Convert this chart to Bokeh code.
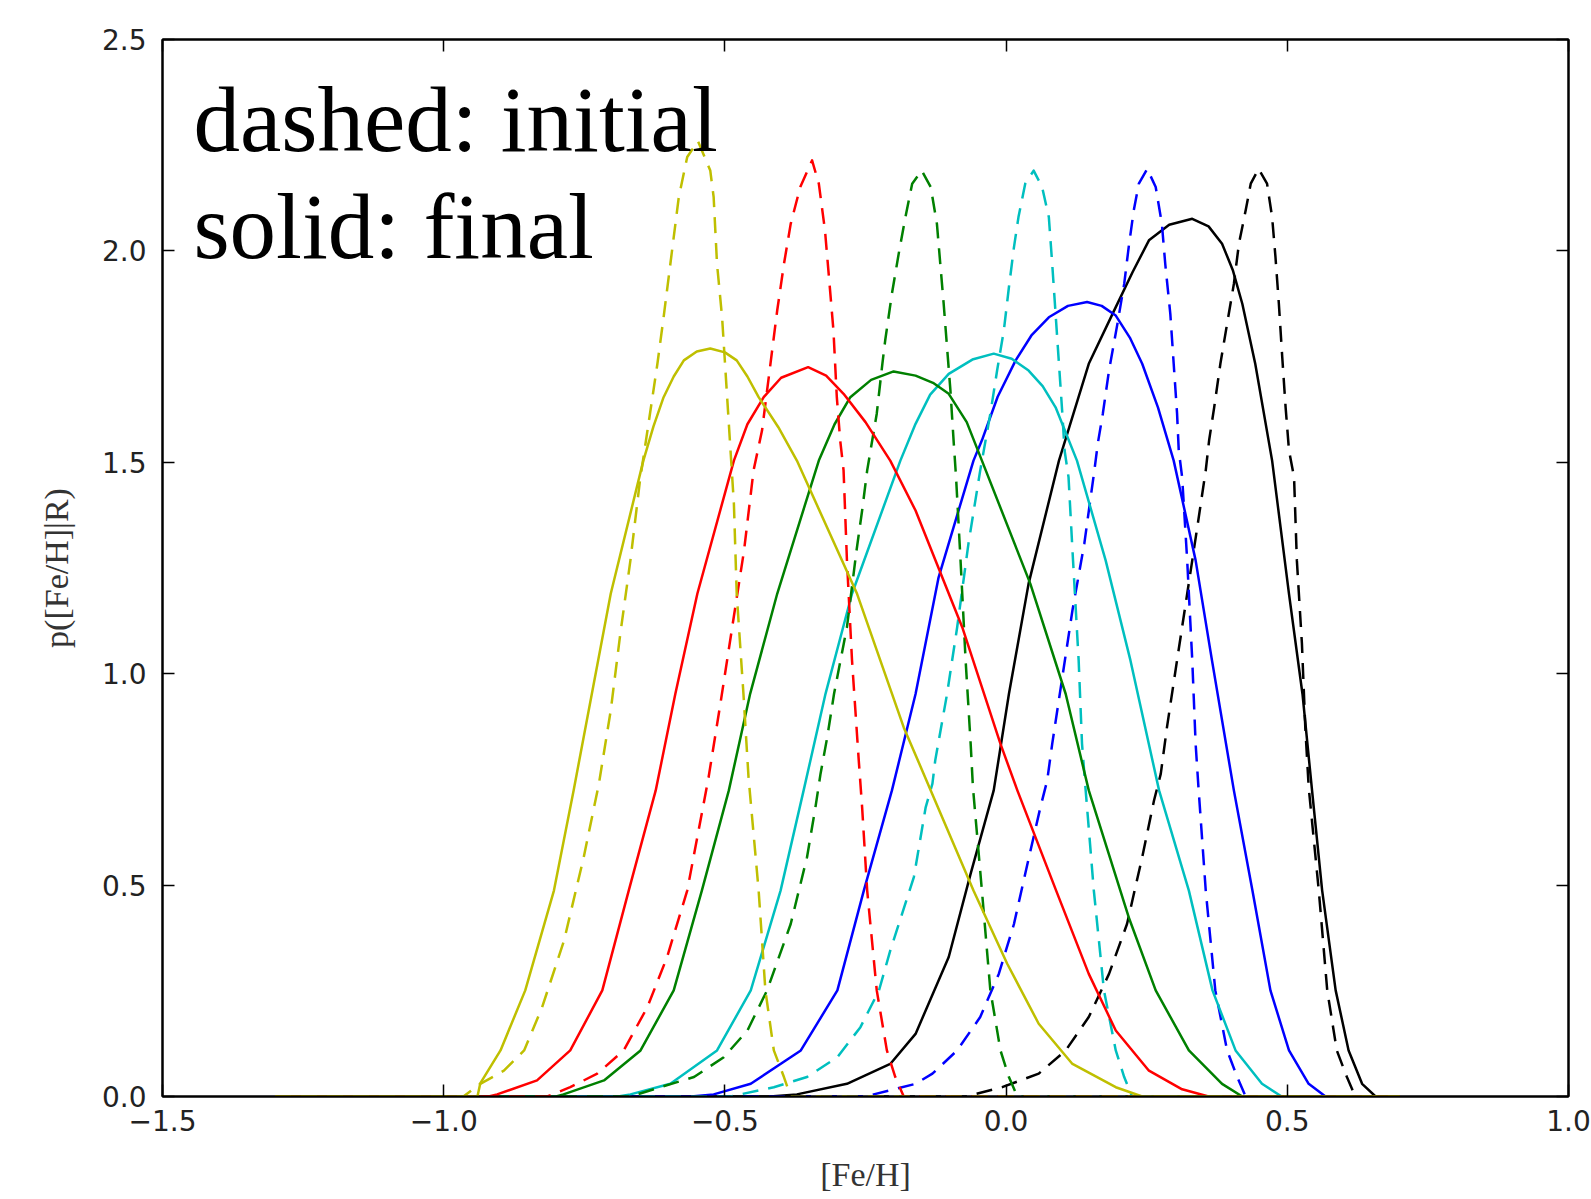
from bokeh.plotting import figure
from bokeh.models import LinearAxis, FixedTicker, Label, Range1d
from bokeh.embed import file_html
from bokeh.resources import INLINE

# ---- data ----
x_ticks = [-1.5, -1.0, -0.5, 0.0, 0.5, 1.0]
x_tick_labels = ["\u22121.5", "\u22121.0", "\u22120.5", "0.0", "0.5", "1.0"]
y_ticks = [0.0, 0.5, 1.0, 1.5, 2.0, 2.5]
y_tick_labels = ["0.0", "0.5", "1.0", "1.5", "2.0", "2.5"]

# final (solid) distributions
y_final_x = [-1.3, -0.94, -0.935, -0.899, -0.855, -0.804, -0.769, -0.703, -0.645, -0.627, -0.609, -0.591, -0.573,
             -0.55, -0.526, -0.50, -0.479, -0.46, -0.440, -0.405, -0.372, -0.265, -0.182, -0.134, -0.058, 0.002,
             0.058, 0.118, 0.195, 0.242, 0.7]
y_final_p = [0, 0, 0.031, 0.109, 0.251, 0.487, 0.724, 1.189, 1.504, 1.585, 1.654, 1.703, 1.741,
             1.762, 1.769, 1.760, 1.741, 1.703, 1.654, 1.583, 1.504, 1.189, 0.873, 0.724, 0.487, 0.314,
             0.172, 0.077, 0.022, 0.0, 0]

r_final_x = [-1.3, -0.92, -0.905, -0.834, -0.775, -0.718, -0.671, -0.623, -0.588, -0.549, -0.484, -0.46, -0.431,
             -0.40, -0.352, -0.32, -0.289, -0.25, -0.206, -0.161, -0.078, -0.010, 0.020, 0.089, 0.147, 0.195,
             0.254, 0.313, 0.36, 0.7]
r_final_p = [0, 0, 0.005, 0.038, 0.109, 0.251, 0.487, 0.724, 0.953, 1.189, 1.504, 1.590, 1.654,
             1.700, 1.725, 1.705, 1.662, 1.595, 1.504, 1.386, 1.110, 0.834, 0.724, 0.487, 0.290, 0.156,
             0.061, 0.017, 0, 0]

g_final_x = [-1.3, -0.80, -0.787, -0.715, -0.650, -0.591, -0.541, -0.493, -0.455, -0.407, -0.333, -0.305, -0.277,
             -0.24, -0.200, -0.161, -0.13, -0.102, -0.07, -0.043, 0.043, 0.106, 0.147, 0.218, 0.266, 0.325,
             0.384, 0.420, 0.7]
g_final_p = [0, 0, 0.005, 0.038, 0.109, 0.251, 0.487, 0.724, 0.953, 1.189, 1.504, 1.590, 1.654,
             1.695, 1.715, 1.705, 1.688, 1.662, 1.595, 1.504, 1.213, 0.952, 0.724, 0.424, 0.251, 0.109,
             0.030, 0, 0]

c_final_x = [-1.3, -0.69, -0.668, -0.597, -0.514, -0.454, -0.401, -0.360, -0.321, -0.274, -0.188, -0.161, -0.135,
             -0.102, -0.06, -0.022, 0.01, 0.040, 0.065, 0.088, 0.126, 0.177, 0.221, 0.272, 0.325, 0.367, 0.408,
             0.455, 0.49, 0.7]
c_final_p = [0, 0, 0.005, 0.030, 0.109, 0.251, 0.487, 0.724, 0.953, 1.189, 1.504, 1.591, 1.660,
             1.709, 1.743, 1.757, 1.745, 1.717, 1.680, 1.630, 1.504, 1.268, 1.032, 0.724, 0.487, 0.251, 0.109,
             0.030, 0, 0]

b_final_x = [-1.3, -0.56, -0.52, -0.454, -0.365, -0.300, -0.253, -0.203, -0.161, -0.120, -0.058, -0.043, -0.015,
             0.017, 0.045, 0.076, 0.11, 0.144, 0.17, 0.195, 0.22, 0.242, 0.27, 0.298, 0.337, 0.366, 0.405,
             0.438, 0.470, 0.503, 0.538, 0.568, 0.7]
b_final_p = [0, 0, 0.005, 0.030, 0.109, 0.251, 0.487, 0.724, 0.952, 1.228, 1.504, 1.552, 1.655,
             1.741, 1.800, 1.843, 1.870, 1.879, 1.870, 1.847, 1.795, 1.733, 1.630, 1.504, 1.268, 1.032, 0.724,
             0.487, 0.251, 0.109, 0.030, 0, 0]

k_final_x = [-1.3, -0.42, -0.372, -0.283, -0.206, -0.161, -0.102, -0.063, -0.022, 0.005, 0.040, 0.094, 0.147,
             0.195, 0.225, 0.254, 0.29, 0.331, 0.36, 0.384, 0.403, 0.420, 0.443, 0.473, 0.503, 0.527, 0.544,
             0.562, 0.586, 0.609, 0.633, 0.657, 0.7]
k_final_p = [0, 0, 0.005, 0.030, 0.077, 0.148, 0.330, 0.527, 0.724, 0.952, 1.213, 1.504, 1.733,
             1.867, 1.950, 2.025, 2.062, 2.076, 2.058, 2.017, 1.955, 1.875, 1.733, 1.504, 1.189, 0.952, 0.724,
             0.487, 0.251, 0.109, 0.030, 0, 0]

# initial (dashed) distributions
y_init_x = [-1.3, -0.965, -0.935, -0.893, -0.857, -0.825, -0.786, -0.751, -0.724, -0.703, -0.686, -0.668, -0.651,
            -0.635, -0.620, -0.609, -0.597, -0.582, -0.567, -0.548, -0.526, -0.520, -0.514, -0.505, -0.496, -0.484,
            -0.479, -0.467, -0.458, -0.440, -0.428, -0.413, -0.395, -0.383, 0.7]
y_init_p = [0, 0, 0.030, 0.061, 0.109, 0.211, 0.369, 0.566, 0.740, 0.913, 1.094, 1.268, 1.457,
            1.599, 1.733, 1.843, 1.969, 2.127, 2.222, 2.26, 2.190, 2.127, 1.969, 1.843, 1.654, 1.402,
            1.189, 0.952, 0.755, 0.487, 0.251, 0.109, 0.046, 0, 0]

r_init_x = [-1.3, -0.816, -0.775, -0.727, -0.680, -0.638, -0.603, -0.567, -0.539, -0.529, -0.508, -0.487, -0.466,
            -0.449, -0.434, -0.419, -0.407, -0.395, -0.383, -0.366, -0.345, -0.333, -0.322, -0.316, -0.307, -0.301,
            -0.295, -0.289, -0.283, -0.274, -0.262, -0.256, -0.247, -0.230, -0.212, -0.197, -0.182, 0.7]
r_init_p = [0, 0, 0.022, 0.054, 0.109, 0.211, 0.329, 0.487, 0.684, 0.755, 0.929, 1.110, 1.291,
            1.481, 1.575, 1.733, 1.859, 1.969, 2.064, 2.151, 2.214, 2.159, 2.048, 1.954, 1.812, 1.654,
            1.552, 1.481, 1.268, 1.032, 0.795, 0.684, 0.487, 0.251, 0.109, 0.046, 0, 0]

g_init_x = [-1.3, -0.668, -0.615, -0.555, -0.502, -0.460, -0.425, -0.383, -0.354, -0.339, -0.330, -0.318, -0.306,
            -0.283, -0.266, -0.256, -0.247, -0.230, -0.220, -0.215, -0.203, -0.191, -0.179, -0.167, -0.150, -0.134,
            -0.123, -0.117, -0.111, -0.105, -0.099, -0.093, -0.089, -0.081, -0.072, -0.063, -0.059, -0.043, -0.028,
            -0.010, 0.005, 0.020, 0.7]
g_init_p = [0, 0, 0.022, 0.046, 0.093, 0.156, 0.251, 0.408, 0.566, 0.684, 0.763, 0.850, 0.952,
            1.110, 1.291, 1.386, 1.481, 1.615, 1.733, 1.788, 1.899, 1.993, 2.080, 2.159, 2.190, 2.151,
            2.064, 1.969, 1.875, 1.772, 1.670, 1.544, 1.465, 1.268, 1.032, 0.834, 0.732, 0.487, 0.251,
            0.109, 0.046, 0, 0]

c_init_x = [-1.3, -0.49, -0.413, -0.354, -0.300, -0.259, -0.226, -0.206, -0.164, -0.158, -0.143, -0.131, -0.126,
            -0.105, -0.087, -0.067, -0.046, -0.028, -0.016, -0.004, 0.005, 0.014, 0.022, 0.034, 0.049, 0.064,
            0.076, 0.082, 0.088, 0.094, 0.100, 0.104, 0.111, 0.119, 0.129, 0.135, 0.141, 0.156, 0.174,
            0.195, 0.210, 0.224, 0.7]
c_init_p = [0, 0, 0.022, 0.046, 0.093, 0.164, 0.251, 0.345, 0.519, 0.566, 0.684, 0.740, 0.795,
            0.952, 1.110, 1.307, 1.481, 1.615, 1.717, 1.812, 1.914, 2.009, 2.080, 2.159, 2.190, 2.151,
            2.080, 1.969, 1.851, 1.733, 1.615, 1.528, 1.465, 1.268, 1.032, 0.834, 0.732, 0.487, 0.251,
            0.109, 0.046, 0, 0]

b_init_x = [-1.3, -0.25, -0.161, -0.131, -0.087, -0.046, -0.013, 0.014, 0.034, 0.061, 0.073, 0.082, 0.100,
            0.118, 0.139, 0.157, 0.163, 0.172, 0.183, 0.198, 0.210, 0.218, 0.227, 0.236, 0.251, 0.266,
            0.277, 0.283, 0.292, 0.298, 0.304, 0.307, 0.313, 0.322, 0.331, 0.337, 0.342, 0.355, 0.372,
            0.393, 0.411, 0.426, 0.7]
b_init_p = [0, 0, 0.030, 0.054, 0.109, 0.188, 0.290, 0.408, 0.527, 0.684, 0.747, 0.834, 0.992,
            1.150, 1.307, 1.481, 1.544, 1.615, 1.717, 1.828, 1.922, 2.009, 2.096, 2.159, 2.194, 2.151,
            2.064, 1.969, 1.851, 1.733, 1.615, 1.528, 1.465, 1.268, 1.032, 0.834, 0.732, 0.487, 0.251,
            0.109, 0.046, 0, 0]

k_init_x = [-1.3, -0.072, -0.007, 0.058, 0.106, 0.147, 0.183, 0.215, 0.242, 0.263, 0.275, 0.286, 0.304,
            0.322, 0.340, 0.355, 0.361, 0.370, 0.381, 0.393, 0.405, 0.414, 0.426, 0.435, 0.449, 0.464,
            0.473, 0.479, 0.485, 0.491, 0.497, 0.503, 0.512, 0.517, 0.526, 0.532, 0.538, 0.556, 0.571,
            0.588, 0.606, 0.621, 0.7]
k_init_p = [0, 0, 0.022, 0.054, 0.109, 0.188, 0.290, 0.408, 0.566, 0.700, 0.763, 0.873, 1.032,
            1.189, 1.347, 1.481, 1.552, 1.630, 1.733, 1.828, 1.922, 2.017, 2.096, 2.159, 2.194, 2.159,
            2.080, 1.985, 1.875, 1.749, 1.630, 1.528, 1.465, 1.268, 1.071, 0.873, 0.732, 0.487, 0.251,
            0.109, 0.046, 0, 0]

colors = {"k": "#000000", "b": "#0000ff", "c": "#00bfbf", "g": "#008000", "r": "#ff0000", "y": "#bfbf00"}
series = [
    ("k", k_final_x, k_final_p, k_init_x, k_init_p),
    ("b", b_final_x, b_final_p, b_init_x, b_init_p),
    ("c", c_final_x, c_final_p, c_init_x, c_init_p),
    ("g", g_final_x, g_final_p, g_init_x, g_init_p),
    ("r", r_final_x, r_final_p, r_init_x, r_init_p),
    ("y", y_final_x, y_final_p, y_init_x, y_init_p),
]
for _, fx, fp, ix, ip in series:
    assert len(fx) == len(fp) and len(ix) == len(ip)

# ---- figure ----
p = figure(frame_width=1406, frame_height=1057,
           x_range=Range1d(-1.5, 1.0), y_range=Range1d(0.0, 2.5),
           output_backend="svg", toolbar_location=None,
           min_border_left=162, min_border_right=23, min_border_top=39, min_border_bottom=103)
p.grid.visible = False
p.background_fill_color = "white"
p.border_fill_color = "white"
p.outline_line_color = "black"
p.outline_line_width = 2

for key, fx, fp, ix, ip in series:
    col = colors[key]
    p.line(fx, fp, line_color=col, line_width=2.5, line_join="round")
    p.line(ix, ip, line_color=col, line_width=2.5, line_dash="16 10", line_join="round")

TICK_FONT = "DejaVu Sans"

def style_axis(ax, show_labels):
    ax.major_tick_in = 12
    ax.major_tick_out = 0
    ax.minor_tick_line_color = None
    ax.major_tick_line_color = "black"
    ax.major_tick_line_width = 1.5
    ax.axis_line_color = "black"
    ax.axis_line_width = 2
    ax.major_label_text_font = TICK_FONT
    ax.major_label_text_font_size = "28px"
    if show_labels:
        ax.major_label_text_color = "#222222"
    else:
        ax.major_label_text_color = None
        ax.major_label_standoff = 0

xa = p.xaxis[0]
xa.ticker = FixedTicker(ticks=x_ticks)
xa.major_label_overrides = {t: s for t, s in zip(x_ticks, x_tick_labels)}
style_axis(xa, True)
xa.major_label_standoff = 13
xa.axis_label = "[Fe/H]"
xa.axis_label_text_font = "Liberation Serif"
xa.axis_label_text_font_style = "normal"
xa.axis_label_text_font_size = "34px"
xa.axis_label_text_color = "#333333"
xa.axis_label_standoff = 22

ya = p.yaxis[0]
ya.ticker = FixedTicker(ticks=y_ticks)
ya.major_label_overrides = {t: s for t, s in zip(y_ticks, y_tick_labels)}
style_axis(ya, True)
ya.major_label_standoff = 16
ya.axis_label = "p([Fe/H]|R)"
ya.axis_label_text_font = "Liberation Serif"
ya.axis_label_text_font_style = "normal"
ya.axis_label_text_font_size = "34px"
ya.axis_label_text_color = "#333333"
ya.axis_label_standoff = 24

xt = LinearAxis(ticker=FixedTicker(ticks=x_ticks))
style_axis(xt, False)
p.add_layout(xt, "above")
yr = LinearAxis(ticker=FixedTicker(ticks=y_ticks))
style_axis(yr, False)
p.add_layout(yr, "right")

# annotation text
note_lines = ["dashed: initial", "solid: final"]
note_x = -1.445
note_y = [2.3107, 2.0577]
for txt, yy in zip(note_lines, note_y):
    p.add_layout(Label(x=note_x, y=yy, text=txt, text_font="Liberation Serif",
                       text_font_size="93px", text_color="black", text_baseline="alphabetic",
                       text_align="left"))

open("out.html", "w").write(file_html(p, INLINE))
